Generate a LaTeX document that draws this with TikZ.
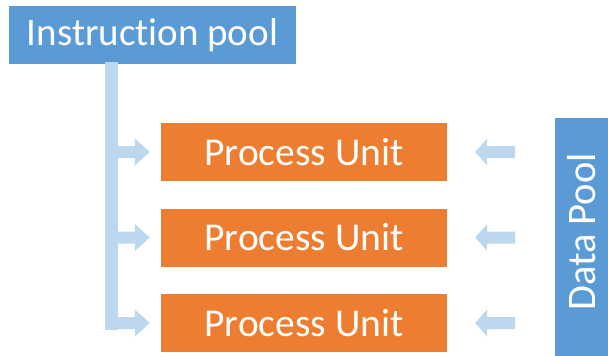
\documentclass[tikz,border=0pt]{standalone}
\usepackage{fontspec}
\setmainfont[Ligatures={NoCommon}]{Carlito}
\definecolor{poolblue}{HTML}{5B9BD5}
\definecolor{unitorange}{HTML}{ED7D31}
\definecolor{flowblue}{HTML}{BDD7EE}
\tikzset{
  pool/.style={fill=poolblue, draw=none, text=white, inner sep=0pt},
  unit/.style={fill=unitorange, draw=none, text=white, inner sep=0pt,
    minimum width=286pt, minimum height=58pt, font=\fontsize{39.5}{44}\selectfont},
  flow/.style={fill=flowblue, draw=none},
}
\begin{document}
\begin{tikzpicture}[x=1pt,y=-1pt]
\useasboundingbox (0,0) rectangle (608,356);

% pools
\node[pool, minimum width=287pt, minimum height=58pt, font=\fontsize{39}{44}\selectfont]
  (ipool) at (152.5,35) {Instruction pool};
\node[pool, minimum width=53pt, minimum height=240pt] (dpool) at (581.5,238) {};
\node[text=white, rotate=90, inner sep=0pt, font=\fontsize{40.5}{44}\selectfont]
  (dlabel) at (581.5,232) {Data Pool};

% process units
\node[unit] (u1) at (304,152) {Process Unit};
\node[unit] (u2) at (304,237.5) {Process Unit};
\node[unit] (u3) at (304,323) {Process Unit};

% instruction feed: trunk plus three branch arrows
\fill[flow] (105,62) rectangle (118,330);
\foreach \u in {u1,u2,u3}{
  \begin{scope}[shift={(\u.west)}]
    \fill[flow] (-43,-6) -- (-26,-6) -- (-26,-13.5) -- (-11,0)
      -- (-26,13.5) -- (-26,6) -- (-43,6) -- cycle;
  \end{scope}
}

% data feed arrows
\foreach \u in {u1,u2,u3}{
  \begin{scope}[shift={(\u.east)}]
    \fill[flow] (28,0) -- (40,-13.5) -- (40,-6) -- (68,-6)
      -- (68,6) -- (40,6) -- (40,13.5) -- cycle;
  \end{scope}
}
\end{tikzpicture}
\end{document}
